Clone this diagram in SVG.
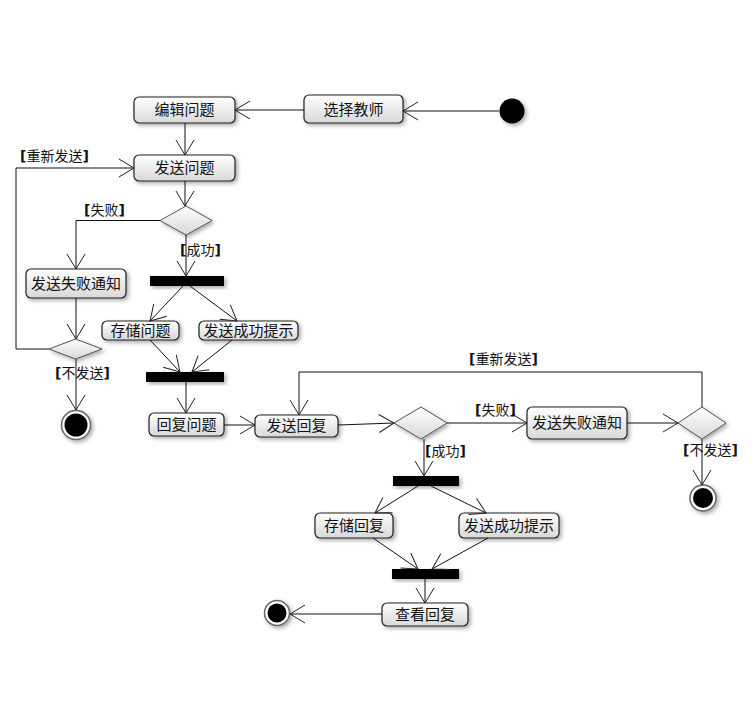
<svg xmlns="http://www.w3.org/2000/svg" width="754" height="708" viewBox="0 0 754 708">
<defs>
<linearGradient id="g" x1="0" y1="0" x2="0" y2="1"><stop offset="0" stop-color="#ffffff"/><stop offset="1" stop-color="#d8d8d8"/></linearGradient>
<filter id="sh" x="-20%" y="-30%" width="150%" height="170%"><feGaussianBlur in="SourceAlpha" stdDeviation="2"/><feOffset dx="2" dy="2"/><feComponentTransfer><feFuncA type="linear" slope="0.35"/></feComponentTransfer><feMerge><feMergeNode/><feMergeNode in="SourceGraphic"/></feMerge></filter>
<marker id="a" markerUnits="userSpaceOnUse" markerWidth="20" markerHeight="20" viewBox="-16 -10 18 20" refX="0" refY="0" orient="auto"><path d="M-15,-9 L0,0 L-15,9" fill="none" stroke="#222" stroke-width="1"/></marker>
<style>
.n rect{fill:url(#g);stroke:#222;stroke-width:1.2;filter:url(#sh)}
.n text{font-family:"Noto Sans CJK SC","Noto Sans",sans-serif;font-size:15px;fill:#111;text-anchor:middle}
.d polygon{fill:url(#g);stroke:#555;stroke-width:1;filter:url(#sh)}
.bar{fill:#000;filter:url(#sh)}
.c path{fill:none;stroke:#111;stroke-width:1;marker-end:url(#a)}
.lb{font-family:"Noto Sans CJK SC","Noto Sans",sans-serif;font-size:14px;fill:#111}
.lb .b{font-family:"DejaVu Sans",sans-serif;font-weight:bold;font-size:14px}
.fo{fill:#fff;stroke:#666;stroke-width:1.5;filter:url(#sh)}
</style>
</defs>
<rect width="754" height="708" fill="#fff"/>

<g id="initial"><circle cx="512" cy="111" r="12.5" fill="#000" filter="url(#sh)"/></g>

<g id="n_select" class="n"><rect x="304" y="95" width="99" height="28" rx="5"/><text x="353.5" y="114.5">选择教师</text></g>
<g id="n_edit" class="n"><rect x="134" y="97" width="101" height="26" rx="5"/><text x="184.5" y="115">编辑问题</text></g>
<g id="n_send" class="n"><rect x="134" y="155" width="101" height="26" rx="5"/><text x="184.5" y="173">发送问题</text></g>
<g id="d1" class="d"><polygon points="186,206 212,220.5 186,235 160,220.5"/></g>
<g id="n_fail1" class="n"><rect x="26" y="269" width="100" height="29" rx="5"/><text x="76" y="289">发送失败通知</text></g>
<g id="fork1"><rect class="bar" x="150" y="276" width="74" height="10"/></g>
<g id="n_storeq" class="n"><rect x="102" y="321" width="77" height="19" rx="5"/><text x="140.5" y="336">存储问题</text></g>
<g id="n_okq" class="n"><rect x="199" y="321" width="99" height="19" rx="5"/><text x="248.5" y="336">发送成功提示</text></g>
<g id="d2" class="d"><polygon points="75.5,339 102,349 75.5,359 49,349"/></g>
<g id="join2"><rect class="bar" x="146" y="372" width="78" height="10"/></g>
<g id="final1"><circle class="fo" cx="76" cy="425" r="14.5"/><circle cx="76" cy="425" r="11.5" fill="#000"/></g>
<g id="n_reply" class="n"><rect x="149" y="413" width="75" height="23" rx="5"/><text x="186.5" y="430">回复问题</text></g>
<g id="n_sendr" class="n"><rect x="255" y="415" width="83" height="22" rx="5"/><text x="296.5" y="431">发送回复</text></g>
<g id="d3" class="d"><polygon points="421,407 447,423 421,439 394,423"/></g>
<g id="n_fail2" class="n"><rect x="527" y="407" width="100" height="32" rx="5"/><text x="577" y="428">发送失败通知</text></g>
<g id="d4" class="d"><polygon points="702,407 726,423 702,439 678,423"/></g>
<g id="final2"><circle class="fo" cx="703" cy="498" r="13"/><circle cx="703" cy="498" r="10" fill="#000"/></g>
<g id="fork3"><rect class="bar" x="393" y="476" width="66" height="10"/></g>
<g id="n_storer" class="n"><rect x="315" y="513" width="78" height="25" rx="5"/><text x="354" y="531">存储回复</text></g>
<g id="n_okr" class="n"><rect x="459" y="513" width="100" height="25" rx="5"/><text x="509" y="531">发送成功提示</text></g>
<g id="join4"><rect class="bar" x="392" y="569" width="67" height="10"/></g>
<g id="n_view" class="n"><rect x="382" y="603" width="86" height="23" rx="5"/><text x="425" y="620">查看回复</text></g>
<g id="final3"><circle class="fo" cx="277" cy="613" r="12.5"/><circle cx="277" cy="613" r="9.5" fill="#000"/></g>

<g id="connectors" class="c">
<path d="M499,111 L403,111"/>
<path d="M304,110 L235,110"/>
<path d="M185,123 L185,155"/>
<path d="M185,181 L185,206"/>
<path d="M160,220.5 L76,220.5 L76,269"/>
<path d="M186,235 L186,276"/>
<path d="M183,286 L150,321"/>
<path d="M190,286 L237,321"/>
<path d="M76,298 L76,339"/>
<path d="M49,349 L16,349 L16,168 L134,168"/>
<path d="M76,359 L76,410"/>
<path d="M150,340 L180,372"/>
<path d="M232,340 L192,372"/>
<path d="M186,382 L186,413"/>
<path d="M224,425 L255,425"/>
<path d="M338,425 L394,423"/>
<path d="M447,423 L527,423"/>
<path d="M424,439 L424,476"/>
<path d="M627,423 L678,423"/>
<path d="M702,407 L702,372 L299,372 L299,415"/>
<path d="M702,439 L702,485"/>
<path d="M418,486 L375,513"/>
<path d="M431,486 L486,513"/>
<path d="M373,538 L418,569"/>
<path d="M488,538 L432,569"/>
<path d="M425,579 L425,603"/>
<path d="M382,614 L290,614"/>
</g>

<g id="labels">
<text class="lb" x="20" y="161"><tspan class="b">[</tspan>重新发送<tspan class="b">]</tspan></text>
<text class="lb" x="84" y="215"><tspan class="b">[</tspan>失败<tspan class="b">]</tspan></text>
<text class="lb" x="180" y="255"><tspan class="b">[</tspan>成功<tspan class="b">]</tspan></text>
<text class="lb" x="55" y="378"><tspan class="b">[</tspan>不发送<tspan class="b">]</tspan></text>
<text class="lb" x="469" y="364"><tspan class="b">[</tspan>重新发送<tspan class="b">]</tspan></text>
<text class="lb" x="475" y="415"><tspan class="b">[</tspan>失败<tspan class="b">]</tspan></text>
<text class="lb" x="425" y="456"><tspan class="b">[</tspan>成功<tspan class="b">]</tspan></text>
<text class="lb" x="683" y="455"><tspan class="b">[</tspan>不发送<tspan class="b">]</tspan></text>
</g>
</svg>
